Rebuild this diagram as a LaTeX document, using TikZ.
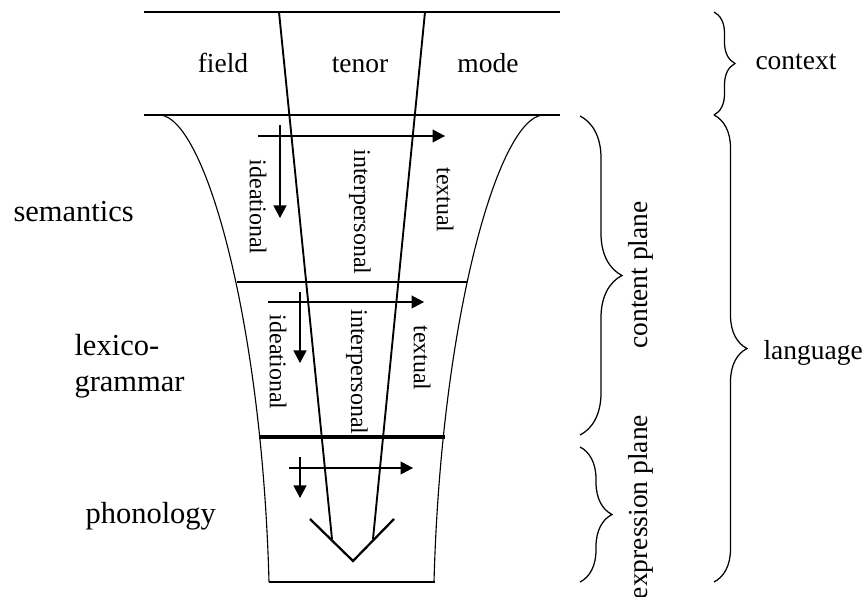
\documentclass[tikz,border=0pt]{standalone}
\usepackage{fontspec}
\setmainfont{Liberation Serif}
\usetikzlibrary{arrows.meta,decorations.pathreplacing}
\begin{document}
\begin{tikzpicture}[
    x=0.4pt, y=-0.4pt,
    thin line/.style={line width=0.45pt},
    important line/.style={line width=0.75pt},
    heavy line/.style={line width=1.4pt},
    pile/.style={line width=0.45pt, -{Triangle[length=5pt, width=5.2pt]}},
    curly/.style={line width=0.5pt, decorate, decoration={brace, amplitude=#1}},
    stratum/.style={font=\fontsize{12.2}{14.5}\selectfont, anchor=base west, inner sep=0pt},
    register label/.style={font=\fontsize{11}{13}\selectfont, anchor=base, inner sep=0pt},
    metafunction/.style={font=\fontsize{9.6}{11}\selectfont, rotate=-90, inner sep=0pt},
    plane label/.style={font=\fontsize{11}{13}\selectfont, rotate=90, inner sep=0pt},
    every node/.style={color=black}
    ]
    \useasboundingbox (0,0) rectangle (865,597);
    % Lines
    \draw[thin line] (144,12) -- (560,12);
    \draw[thin line] (144,115) -- (560,115);
    \draw[thin line] (237,282) -- (467,282);
    \draw[heavy line] (259,437) -- (445,437);
    \draw[thin line] (269,582) -- (435,582);
    % the trumpet
    \draw[thin line] (160,115) .. controls (205,118) and (262,320) .. (269,582);
    \draw[thin line] (543,115) .. controls (498,118) and (441,320) .. (434,582);
    % the two slanted lines and the V
    \draw[important line] (279,12) coordinate (A) -- (332,539) coordinate (B);
    \draw[important line] (425,12) coordinate (C) -- (373,539) coordinate (D);
    \draw[line width=0.9pt] (310,519) -- (353,561) coordinate (E) -- (394,519);
    % Arrows
    \draw[pile] (258,136) -- (445,136);
    \draw[pile] (280,125) -- (280,218);
    \draw[pile] (268,302) -- (424,302);
    \draw[pile] (300,292) -- (300,363);
    \draw[pile] (289,468) -- (413,468);
    \draw[pile] (300,457) -- (300,498);
    % context
    \node[register label] (field) at (223,73) {field};
    \node[register label] (tenor) at (360,73) {tenor};
    \node[register label] (mode) at (488,73) {mode};
    % strata
    \node[stratum] (semantics) at (13,222) {semantics};
    \node[stratum] (lexico) at (74,356) {lexico-};
    \node[stratum] (grammar) at (74,392) {grammar};
    \node[stratum] (phonology) at (85,523) {phonology};
    % metafunctions
    \node[metafunction] (idea1) at (258,207) {ideational};
    \node[metafunction] (inter1) at (360,212) {interpersonal};
    \node[metafunction] (text1) at (445,200) {textual};
    \node[metafunction] (idea2) at (278,362) {ideational};
    \node[metafunction] (inter2) at (357,372) {interpersonal};
    \node[metafunction] (text2) at (422,358) {textual};
    % Braces
    \draw[curly=8.4pt] (714,12) -- (714,115);
    \draw[curly=13.2pt] (714,115) -- (714,582);
    \draw[curly=16.8pt] (580,116) -- (580,435);
    \draw[curly=12.8pt] (580,447) -- (580,582);
    \node[register label, anchor=base west] (context) at (755,70) {context};
    \node[register label, anchor=base west] (language) at (763,360) {language};
    \node[plane label] (content) at (641,275) {content plane};
    \node[plane label] (expression) at (641,507) {expression plane};
\end{tikzpicture}
\end{document}
